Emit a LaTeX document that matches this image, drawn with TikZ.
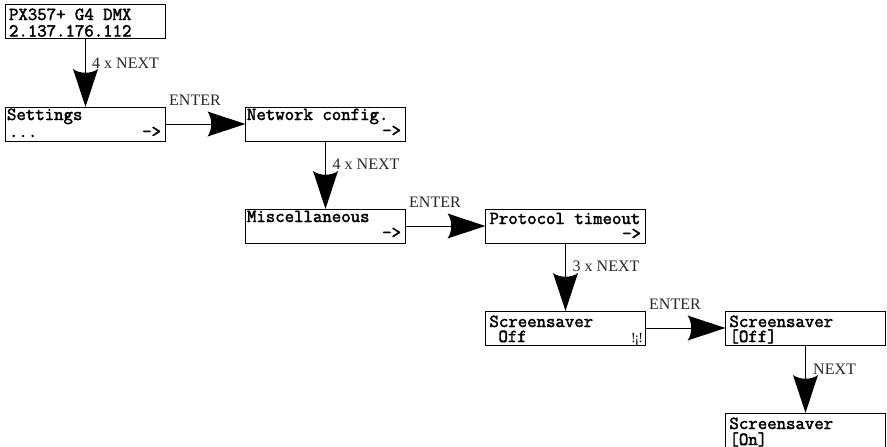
\documentclass[tikz,border=0pt]{standalone}
\usepackage{fontspec}
\setmainfont{Liberation Serif}
\newfontfamily\lcdfont[FakeBold=2.2]{Latin Modern Mono}
\usetikzlibrary{arrows.meta}
\pgfdeclarearrow{
  name=BigHead,
  setup code={\pgfarrowssettipend{0pt}\pgfarrowssetlineend{-30pt}\pgfarrowssetvisualbackend{-38pt}},
  drawing code={
    \pgfpathmoveto{\pgfqpoint{0pt}{0pt}}
    \pgfpathlineto{\pgfqpoint{-38pt}{12.5pt}}
    \pgfpathcurveto{\pgfqpoint{-33pt}{6pt}}{\pgfqpoint{-33pt}{-6pt}}{\pgfqpoint{-38pt}{-12.5pt}}
    \pgfpathclose
    \pgfusepathqfill
  }
}
% #1 first baseline, #2 second baseline offset, #3 indent, #4 first line, #5 indent, #6 second line, #7 right part
\newcommand\lcdtext[7]{\vbox to 34pt{\offinterlineskip\hsize=160pt\vskip #1
  \hbox to 160pt{\hskip #3\smash{#4}\hfil}\vskip #2
  \hbox to 160pt{\hskip #5\smash{#6}\hfil\smash{#7}}\vss}}
\newcommand\goon{->\hskip 4.5pt}
\newcommand\lcdsignal{\normalfont\fontsize{14pt}{14pt}\selectfont!\kern-1pt¡\kern-1pt!\hskip 2.5pt}
\tikzset{
  x=1pt,y=-1pt,
  lcd/.style={draw=black,line width=1pt,rectangle,inner sep=0pt,outer sep=0pt,anchor=north west,
    font=\lcdfont\fontsize{18.3pt}{18.3pt}\selectfont},
  conn/.style={draw=black,line width=1pt,-{BigHead}},
  lbl/.style={anchor=base west,inner sep=0pt,font=\fontsize{16pt}{16pt}\selectfont,text=black!85},
}
\begin{document}
\begin{tikzpicture}
\useasboundingbox (0,0) rectangle (887,447);
\node[lcd] (a) at (5.5,4.5) {\lcdtext{15.5pt}{16.5pt}{3.5pt}{PX357+ G4 DMX}{3.5pt}{2.137.176.112}{}};
\node[lcd] (b) at (5.5,107) {\lcdtext{13pt}{17pt}{1.5pt}{Settings}{3.5pt}{...}{\goon}};
\node[lcd] (c) at (245.5,107) {\lcdtext{13pt}{16pt}{1.5pt}{Network config.}{1.5pt}{}{\goon}};
\node[lcd] (d) at (245.5,209) {\lcdtext{13pt}{16pt}{1.5pt}{Miscellaneous}{1.5pt}{}{\goon}};
\node[lcd] (e) at (485.5,209) {\lcdtext{15pt}{15pt}{4pt}{Protocol timeout}{1.5pt}{}{\goon}};
\node[lcd] (f) at (485.5,311) {\lcdtext{16pt}{15pt}{4pt}{Screensaver}{13pt}{Off}{\lcdsignal}};
\node[lcd] (g) at (725.5,311) {\lcdtext{16pt}{15pt}{4pt}{Screensaver}{4pt}{[Off]}{}};
\node[lcd] (h) at (725.5,413) {\lcdtext{16pt}{16pt}{4pt}{Screensaver}{4pt}{[On]}{}};
\draw[conn] (a) -- (b);
\draw[conn] (b) -- (c);
\draw[conn] (c) -- (d);
\draw[conn] (d) -- (e);
\draw[conn] (e) -- (f);
\draw[conn] (f) -- (g);
\draw[conn] (g) -- (h);
\node[lbl] (l1) at (92,68) {4 x NEXT};
\node[lbl] (l2) at (169,105) {ENTER};
\node[lbl] (l3) at (332.5,169) {4 x NEXT};
\node[lbl] (l4) at (409,207) {ENTER};
\node[lbl] (l5) at (572.5,271) {3 x NEXT};
\node[lbl] (l6) at (649,309) {ENTER};
\node[lbl] (l7) at (813,374) {NEXT};
\end{tikzpicture}
\end{document}
